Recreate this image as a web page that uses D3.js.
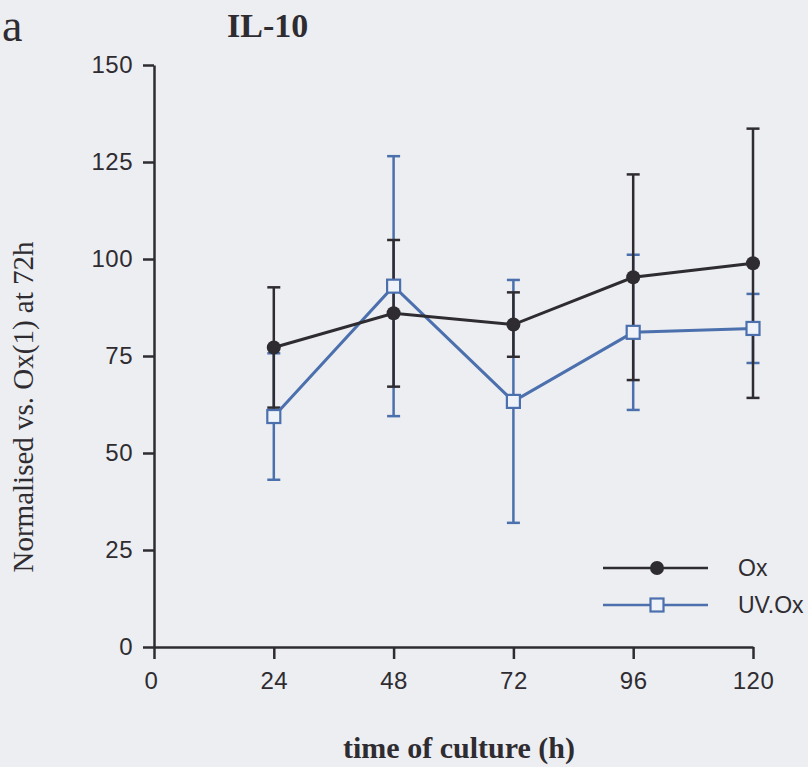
<!DOCTYPE html>
<html>
<head>
<meta charset="utf-8">
<script src="https://cdn.jsdelivr.net/npm/d3@7"></script>
<style>
  body { margin: 0; background: #eceef1; }
  svg { display: block; }
</style>
</head>
<body>
<div id="chart"></div>
<script>
// IL-10, normalised vs Ox(1) at 72h
const hours = [24, 48, 72, 96, 120];
const oxMean = [77.2, 86.0, 83.1, 95.3, 98.9];
const oxErr = [15.5, 18.9, 8.3, 26.5, 34.7];
const uvMean = [59.4, 93.0, 63.3, 81.1, 82.1];
const uvErr = [16.3, 33.5, 31.3, 20.0, 8.9];
const xTicks = [0, 24, 48, 72, 96, 120];
const yTicks = [0, 25, 50, 75, 100, 125, 150];

const W = 808, H = 767;
const blk = "#2f2c31", blu = "#4b70ad";
const sans = "'Liberation Sans', Arial, sans-serif";
const serif = "'Liberation Serif', 'Times New Roman', serif";

const svg = d3.select("#chart").append("svg")
  .attr("width", W).attr("height", H);

const x = d3.scaleLinear().domain([0, 120]).range([154, 753]);
const y = d3.scaleLinear().domain([0, 150]).range([647, 65]);

// axes
const gy = svg.append("g")
  .attr("transform", `translate(${x(0)},0)`)
  .call(d3.axisLeft(y).tickValues(yTicks).tickSize(11).tickSizeOuter(0).tickPadding(10));
const gx = svg.append("g")
  .attr("transform", `translate(0,${y(0)})`)
  .call(d3.axisBottom(x).tickValues(xTicks).tickSize(12).tickSizeOuter(0).tickPadding(13));
[gx, gy].forEach(g => {
  g.selectAll("path, line").attr("stroke", blk).attr("stroke-width", 2.5);
  g.selectAll("text")
    .attr("fill", blk)
    .style("font-family", sans)
    .style("font-size", "24px")
    .style("letter-spacing", "0.5px");
});
gx.select(".tick text").attr("dx", "-3px");

// series
const series = [
  {name: "Ox", mean: oxMean, err: oxErr, color: blk, shape: "circle"},
  {name: "UV.Ox", mean: uvMean, err: uvErr, color: blu, shape: "square"}
];
const rows = s => hours.map((h, i) => ({h, v: s.mean[i], e: s.err[i]}));

// error bars: blue first, black over it
[series[1], series[0]].forEach(s => {
  const g = svg.append("g").attr("stroke", s.color).attr("stroke-width", 2.5);
  rows(s).forEach(d => {
    g.append("line").attr("x1", x(d.h)).attr("x2", x(d.h))
      .attr("y1", y(d.v - d.e)).attr("y2", y(d.v + d.e));
    [d.v - d.e, d.v + d.e].forEach(c => {
      g.append("line").attr("x1", x(d.h) - 6.5).attr("x2", x(d.h) + 6.5)
        .attr("y1", y(c)).attr("y2", y(c));
    });
  });
});

const line = d3.line().x(d => x(d.h)).y(d => y(d.v));
[series[1], series[0]].forEach(s => {
  svg.append("path").datum(rows(s))
    .attr("d", line).attr("fill", "none")
    .attr("stroke", s.color).attr("stroke-width", 3);
});

function marker(g, s, cx, cy) {
  if (s.shape === "circle") {
    g.append("circle").attr("cx", cx).attr("cy", cy).attr("r", 7).attr("fill", s.color);
  } else {
    g.append("rect").attr("x", cx - 6.5).attr("y", cy - 6.5).attr("width", 13).attr("height", 13)
      .attr("fill", "#eef3f9").attr("stroke", s.color).attr("stroke-width", 2.2);
  }
}
series.forEach(s => {
  const g = svg.append("g");
  rows(s).forEach(d => marker(g, s, x(d.h), y(d.v)));
});

// legend
const leg = svg.append("g");
series.forEach((s, i) => {
  const ly = 568 + i * 37;
  leg.append("line").attr("x1", 603).attr("x2", 708).attr("y1", ly).attr("y2", ly)
    .attr("stroke", s.color).attr("stroke-width", 2.5);
  marker(leg, s, 657, ly);
  leg.append("text").attr("x", 738).attr("y", ly).attr("dy", "0.35em")
    .attr("fill", blk)
    .style("font-family", sans)
    .style("font-size", "23px")
    .text(s.name);
});

// titles
svg.append("text").attr("x", 2).attr("y", 41).attr("fill", blk)
  .style("font-family", serif).style("font-size", "46px").text("a");
svg.append("text").attr("x", 227).attr("y", 37).attr("fill", blk)
  .style("font-family", serif).style("font-size", "34px").style("font-weight", "bold").text("IL-10");
svg.append("text").attr("x", 459).attr("y", 758).attr("text-anchor", "middle").attr("fill", blk)
  .style("font-family", serif).style("font-size", "30px").style("font-weight", "bold")
  .text("time of culture (h)");
svg.append("text")
  .attr("transform", "translate(33,407) rotate(-90)")
  .attr("text-anchor", "middle").attr("fill", blk)
  .style("font-family", serif).style("font-size", "29px")
  .text("Normalised vs. Ox(1) at 72h");
</script>
</body>
</html>
